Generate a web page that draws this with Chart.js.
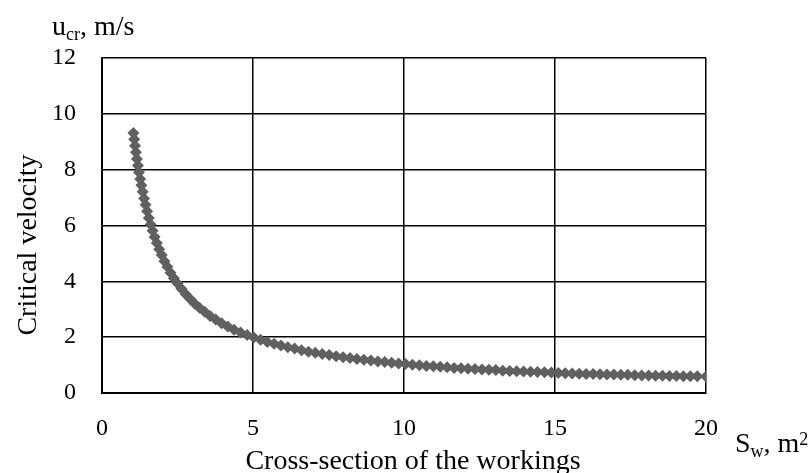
<!DOCTYPE html>
<html>
<head>
<meta charset="utf-8">
<script src="https://cdn.jsdelivr.net/npm/chart.js@4/dist/chart.umd.min.js"></script>
<style>
  html, body { margin: 0; padding: 0; background: #fff; }
  #wrap { width: 811px; height: 473px; }
</style>
</head>
<body>
<div id="wrap"><canvas id="grafica"></canvas></div>
<script>
// Datos (puntos mas densos en la parte empinada)
const seccion = [1.04, 1.066, 1.094, 1.124, 1.156, 1.19, 1.226, 1.264, 1.304, 1.347, 1.393, 1.442, 1.494, 1.55,
  1.61, 1.674, 1.742, 1.815, 1.893, 1.977, 2.067, 2.164, 2.268, 2.38, 2.5, 2.628, 2.765, 2.91, 3.064, 3.227,
  3.398, 3.578, 3.766, 3.962, 4.165, 4.374, 4.588, 4.806, 5.027, 5.25, 5.474, 5.699, 5.925, 6.152, 6.379,
  6.607, 6.835, 7.064, 7.293, 7.522, 7.752, 7.982, 8.212, 8.442, 8.672, 8.902, 9.132, 9.362, 9.59, 9.82,
  10.05, 10.28, 10.51, 10.74, 10.97, 11.2, 11.43, 11.66, 11.89, 12.12, 12.35, 12.58, 12.81, 13.04, 13.27,
  13.5, 13.73, 13.96, 14.19, 14.42, 14.65, 14.88, 15.11, 15.34, 15.57, 15.8, 16.03, 16.26, 16.49, 16.72,
  16.95, 17.18, 17.41, 17.64, 17.87, 18.1, 18.33, 18.56, 18.79, 19.02, 19.25, 19.48, 19.71, 20];
const velocidad = [9.31, 9.09, 8.86, 8.62, 8.38, 8.15, 7.91, 7.67, 7.44, 7.21, 6.97, 6.74, 6.51, 6.27,
  6.04, 5.81, 5.59, 5.37, 5.15, 4.94, 4.72, 4.52, 4.31, 4.11, 3.92, 3.73, 3.55, 3.38, 3.21, 3.05,
  2.91, 2.76, 2.63, 2.50, 2.38, 2.27, 2.17, 2.08, 1.99, 1.91, 1.83, 1.76, 1.70, 1.64, 1.59,
  1.53, 1.48, 1.44, 1.40, 1.36, 1.32, 1.28, 1.25, 1.22, 1.19, 1.16, 1.13, 1.11, 1.08, 1.06,
  1.04, 1.01, 0.99, 0.97, 0.96, 0.94, 0.92, 0.90, 0.89, 0.87, 0.86, 0.84, 0.83, 0.82, 0.80,
  0.79, 0.78, 0.77, 0.76, 0.75, 0.74, 0.73, 0.72, 0.71, 0.70, 0.69, 0.68, 0.68, 0.67, 0.66,
  0.66, 0.65, 0.65, 0.64, 0.63, 0.63, 0.62, 0.62, 0.61, 0.61, 0.60, 0.60, 0.60, 0.59];
const ticksX = [0, 5, 10, 15, 20];
const ticksY = [0, 2, 4, 6, 8, 10, 12];

const fuente = "'Liberation Serif', 'Times New Roman', serif";

// Etiquetas de los ejes con subindices
const etiquetas = {
  id: 'etiquetas',
  afterDraw(chart) {
    const ctx = chart.ctx;
    ctx.save();
    ctx.fillStyle = '#000';
    ctx.textBaseline = 'alphabetic';
    ctx.textAlign = 'left';

    // u_cr, m/s
    let x = 52;
    ctx.font = `28px ${fuente}`;
    ctx.fillText('u', x, 35);
    x += ctx.measureText('u').width;
    ctx.font = `18px ${fuente}`;
    ctx.fillText('cr', x, 40);
    x += ctx.measureText('cr').width;
    ctx.font = `28px ${fuente}`;
    ctx.fillText(', m/s', x, 35);

    // S_w, m2
    x = 735;
    ctx.fillText('S', x, 452);
    x += ctx.measureText('S').width;
    ctx.font = `18px ${fuente}`;
    ctx.fillText('w', x, 457);
    x += ctx.measureText('w').width;
    ctx.font = `28px ${fuente}`;
    ctx.fillText(', m', x, 452);
    x += ctx.measureText(', m').width;
    ctx.font = `18px ${fuente}`;
    ctx.fillText('2', x, 445);

    // titulos
    ctx.font = `28px ${fuente}`;
    ctx.textAlign = 'center';
    ctx.fillText('Cross-section of the workings', 413, 469);
    ctx.translate(36, 245);
    ctx.rotate(-Math.PI / 2);
    ctx.fillText('Critical velocity', 0, 0);
    ctx.restore();
  }
};

const miCanvas = document.getElementById('grafica').getContext('2d');

const chart = new Chart(miCanvas, {
  type: 'scatter',
  data: {
    datasets: [{
      label: 'u_cr',
      data: seccion.map((s, i) => ({ x: s, y: velocidad[i] })),
      pointStyle: 'rectRot',
      pointRadius: 6,
      pointBorderWidth: 0,
      backgroundColor: '#606060',
      borderColor: '#606060',
      showLine: false
    }]
  },
  options: {
    responsive: true,
    maintainAspectRatio: false,
    animation: false,
    layout: { padding: { left: 0, right: 105, top: 58, bottom: 0 } },
    plugins: {
      legend: { display: false },
      tooltip: { enabled: false }
    },
    scales: {
      x: {
        type: 'linear',
        min: 0,
        max: 20,
        afterBuildTicks: axis => { axis.ticks = ticksX.map(v => ({ value: v })); },
        afterFit: axis => { axis.height = 80; },
        grid: { color: '#000', lineWidth: 1.5, drawTicks: false },
        border: { color: '#000', width: 2 },
        ticks: { color: '#000', padding: 21, font: { family: fuente, size: 24 } }
      },
      y: {
        min: 0,
        max: 12,
        afterBuildTicks: axis => { axis.ticks = ticksY.map(v => ({ value: v })); },
        afterFit: axis => { axis.width = 102; },
        grid: { color: '#000', lineWidth: 1.5, drawTicks: false },
        border: { color: '#000', width: 2 },
        ticks: { color: '#000', padding: 26, font: { family: fuente, size: 24 } }
      }
    }
  },
  plugins: [etiquetas]
});
</script>
</body>
</html>
